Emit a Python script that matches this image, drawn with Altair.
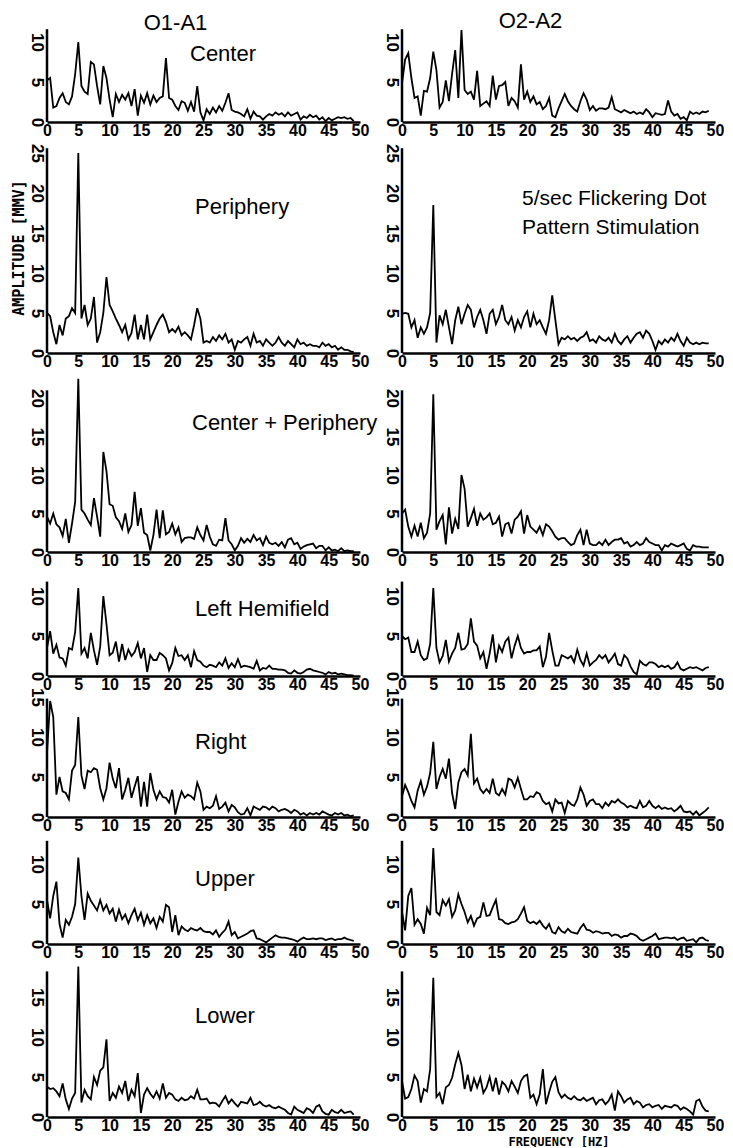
import altair as alt
import pandas as pd

# frequency grid (Hz), 0.5 Hz resolution
FREQ = [i * 0.5 for i in range(99)]

# ---- amplitude spectra, O1-A1 = left column, O2-A2 = right column
CENTER_L = [5.2, 5.5, 1.8, 2.0, 3.0, 3.6, 2.5, 2.2, 3.2, 6.0,
            10.0, 4.5, 3.8, 3.5, 7.5, 7.2, 4.5, 2.2, 7.0, 5.5,
            2.8, 0.6, 3.5, 2.5, 3.4, 2.8, 3.6, 2.0, 4.1, 0.8,
            3.3, 2.4, 3.6, 2.2, 3.3, 2.5, 3.0, 3.2, 8.0, 3.0,
            2.8, 2.0, 1.5, 2.6, 2.4, 1.4, 2.5, 1.3, 4.5, 1.2,
            0.2, 1.6, 1.0, 1.8, 1.2, 2.0, 1.4, 2.4, 3.6, 1.5,
            1.3, 1.2, 1.0, 0.7, 1.6, 0.4, 1.3, 0.8, 0.7, 0.3,
            0.7, 1.0, 0.8, 1.2, 0.9, 1.1, 0.7, 1.2, 0.8, 1.0,
            1.2, 0.3, 0.7, 0.5, 0.9, 0.6, 0.8, 0.3, 0.6, 0.1,
            0.5, 0.2, 0.4, 0.6, 0.5, 0.6, 0.4, 0.5, 0.1]
CENTER_R = [4.8, 7.8, 8.6, 5.5, 3.0, 3.2, 0.8, 3.9, 3.8, 5.5,
            8.8, 6.5, 1.8, 2.5, 5.2, 2.6, 6.0, 9.0, 3.0, 11.5,
            4.0, 3.5, 3.8, 2.8, 6.4, 2.0, 2.3, 2.6, 2.0, 5.8,
            2.8, 4.5, 4.6, 5.0, 2.0, 3.0, 2.6, 1.8, 7.2, 2.8,
            3.8, 2.5, 3.2, 2.2, 2.5, 1.6, 2.0, 3.0, 0.8, 0.6,
            1.7, 2.6, 3.5, 2.6, 2.0, 1.6, 1.3, 2.6, 3.6, 2.8,
            1.5, 2.0, 1.4, 1.7, 1.7, 1.6, 1.8, 3.1, 1.6, 1.4,
            1.2, 1.5, 1.3, 1.1, 1.3, 1.0, 1.2, 1.0, 1.6, 1.2,
            0.6, 1.1, 1.0, 0.9, 1.0, 2.7, 1.3, 0.8, 1.0, 0.4,
            0.6, 0.2, 1.3, 1.0, 1.2, 1.0, 1.3, 1.2, 1.4]
PERIPH_L = [5.0, 4.6, 2.6, 1.1, 3.5, 2.2, 4.3, 4.6, 5.6, 5.0,
            25.0, 4.3, 6.0, 3.5, 4.3, 7.0, 1.3, 2.6, 5.0, 9.5,
            6.0, 5.2, 4.3, 3.5, 2.6, 3.5, 1.7, 2.5, 4.8, 1.7,
            3.5, 1.7, 4.8, 1.7, 2.6, 3.5, 4.3, 4.8, 3.9, 2.6,
            3.0, 2.6, 3.3, 2.2, 2.6, 2.2, 1.7, 3.5, 5.6, 4.3,
            1.3, 1.5, 1.3, 2.0, 1.5, 2.2, 1.7, 2.4, 1.3, 1.7,
            0.4, 1.5, 1.3, 1.7, 2.0, 0.9, 2.4, 1.3, 1.5, 0.9,
            1.7, 1.3, 0.9, 1.3, 2.0, 1.3, 0.9, 1.5, 1.1, 0.7,
            1.7, 1.1, 1.3, 0.9, 1.1, 0.9, 0.9, 0.7, 1.3, 0.9,
            1.1, 0.7, 0.9, 0.4, 0.7, 0.4, 0.4, 0.2, 0.1]
PERIPH_R = [4.9, 5.0, 4.9, 3.2, 4.1, 1.9, 3.2, 2.4, 3.2, 5.0,
            18.5, 1.3, 4.7, 3.6, 5.4, 3.2, 1.1, 4.1, 5.8, 3.6,
            4.9, 6.0, 5.4, 3.2, 4.5, 5.4, 4.1, 2.4, 4.9, 5.4,
            3.6, 4.5, 6.0, 4.1, 3.6, 4.5, 2.8, 4.1, 3.2, 4.5,
            5.2, 3.2, 4.9, 3.6, 4.1, 3.2, 2.4, 4.1, 7.2, 4.1,
            1.1, 1.9, 1.7, 2.1, 1.7, 1.9, 1.5, 1.9, 2.1, 2.6,
            1.5, 1.7, 1.3, 2.1, 1.7, 1.5, 1.9, 1.3, 2.4, 1.5,
            1.1, 1.7, 2.1, 1.3, 1.9, 2.4, 2.6, 1.9, 2.8, 2.4,
            1.5, 0.4, 1.5, 1.1, 1.7, 1.3, 1.9, 1.5, 2.4, 1.5,
            0.9, 1.9, 1.3, 1.1, 1.3, 1.1, 1.3, 1.2, 1.2]
CP_L = [4.6, 3.7, 5.0, 3.6, 3.2, 2.1, 4.3, 1.2, 3.7, 6.5,
        22.5, 5.5, 5.0, 4.2, 3.5, 7.0, 4.6, 2.0, 13.0, 10.5,
        6.2, 6.0, 4.5, 4.0, 3.0, 5.0, 2.6, 3.5, 7.8, 3.4,
        5.7, 2.5, 2.2, 0.2, 2.2, 5.5, 1.8, 5.4, 2.3, 2.6,
        3.7, 2.3, 3.2, 1.3, 1.8, 1.9, 1.9, 1.7, 3.2, 2.2,
        1.5, 3.5, 2.0, 1.0, 0.8, 1.6, 1.5, 4.4, 1.5, 1.0,
        0.2, 0.8, 1.8, 1.2, 1.7, 1.3, 2.2, 1.5, 1.8, 0.9,
        2.0, 1.2, 1.0, 1.2, 0.8, 1.3, 0.6, 1.6, 1.8, 1.0,
        1.2, 0.4, 0.7, 0.9, 1.0, 1.1, 0.5, 0.8, 0.8, 0.2,
        0.6, 0.2, 0.3, 0.1, 0.5, 0.1, 0.2, 0.1, 0.1]
CP_R = [5.0, 5.5, 3.3, 2.0, 3.4, 2.0, 3.8, 1.8, 2.5, 5.0,
        20.5, 2.9, 4.0, 4.8, 1.0, 5.8, 2.4, 4.3, 3.0, 10.0,
        8.2, 3.3, 4.4, 5.6, 3.4, 5.0, 4.2, 4.5, 5.0, 3.6,
        3.8, 4.6, 2.0, 3.6, 3.8, 2.4, 4.2, 4.6, 5.3, 2.4,
        4.8, 3.3, 2.9, 2.5, 3.3, 2.2, 3.6, 3.3, 2.7, 2.0,
        1.6, 1.8, 1.8, 1.3, 0.9, 1.1, 2.2, 2.9, 0.9, 2.9,
        1.1, 0.9, 0.9, 1.3, 0.9, 1.6, 0.9, 1.3, 1.6, 1.6,
        1.8, 1.1, 1.3, 0.7, 0.9, 1.3, 0.9, 1.1, 1.8, 1.3,
        1.1, 0.9, 0.9, 0.2, 0.9, 0.7, 1.1, 0.9, 0.7, 0.9,
        1.1, 0.4, 0.2, 0.9, 0.7, 0.7, 0.6, 0.6, 0.6]
LH_L = [3.5, 5.6, 2.8, 3.9, 2.3, 2.2, 1.3, 3.5, 3.3, 5.5,
        11.0, 2.8, 3.5, 2.2, 5.4, 3.2, 1.4, 3.7, 10.0, 6.5,
        2.6, 2.9, 4.3, 1.8, 4.0, 2.0, 3.3, 2.5, 3.0, 4.1,
        2.2, 3.5, 0.5, 2.6, 2.0, 2.0, 2.9, 2.6, 2.2, 0.7,
        1.6, 3.5, 2.5, 2.6, 2.0, 2.6, 1.1, 3.1, 2.0, 1.8,
        1.3, 1.1, 1.4, 1.3, 1.1, 1.7, 1.3, 2.2, 1.0, 1.6,
        1.1, 2.1, 1.1, 1.3, 1.2, 1.1, 0.9, 1.9, 0.7, 1.0,
        0.9, 1.3, 0.9, 0.9, 0.8, 0.8, 0.7, 0.4, 0.3, 0.7,
        0.4, 0.3, 0.5, 0.8, 0.9, 0.7, 0.6, 0.5, 0.4, 0.2,
        0.5, 0.3, 0.4, 0.2, 0.3, 0.2, 0.1, 0.1, 0.05]
LH_R = [5.0, 4.6, 4.8, 3.0, 3.0, 4.3, 2.6, 2.0, 2.2, 4.0,
        11.0, 3.5, 1.7, 2.5, 4.5, 1.8, 2.8, 3.5, 5.4, 3.3,
        3.4, 4.0, 7.2, 4.3, 3.8, 2.2, 3.0, 0.9, 2.8, 5.2,
        1.7, 3.8, 3.0, 4.3, 4.8, 2.2, 3.8, 5.0, 3.5, 2.8,
        3.0, 3.0, 3.2, 3.2, 3.7, 1.1, 2.4, 5.4, 3.2, 1.3,
        1.3, 2.6, 2.4, 2.2, 2.5, 1.7, 3.3, 2.0, 1.3, 2.8,
        1.3, 1.7, 2.0, 2.6, 2.2, 2.6, 1.7, 2.2, 2.8, 1.5,
        1.3, 2.6, 2.2, 1.2, 0.5, 0.2, 1.9, 1.5, 1.3, 1.7,
        1.7, 1.5, 1.1, 1.3, 1.1, 1.3, 0.9, 1.1, 1.7, 0.9,
        0.7, 0.9, 1.1, 1.0, 1.1, 0.9, 0.7, 1.0, 1.1]
RIGHT_L = [8.0, 14.5, 12.5, 2.8, 5.0, 3.2, 3.0, 2.2, 5.8, 6.5,
           12.5, 5.2, 3.5, 5.8, 5.6, 6.1, 5.9, 3.6, 2.2, 3.6,
           6.8, 4.8, 3.6, 6.1, 2.2, 3.4, 4.9, 2.4, 3.8, 5.1,
           1.3, 4.4, 1.3, 5.5, 3.4, 2.2, 3.2, 2.5, 2.4, 1.8,
           3.4, 0.3, 1.9, 3.2, 2.4, 2.8, 2.6, 2.2, 4.3, 3.2,
           0.9, 1.3, 1.1, 1.4, 2.6, 1.0, 1.3, 1.8, 0.7, 1.5,
           1.2, 0.6, 0.3, 0.4, 1.1, 0.2, 1.3, 1.1, 0.9, 1.3,
           1.2, 0.9, 1.3, 1.1, 0.7, 0.9, 1.0, 0.8, 0.5, 0.9,
           0.7, 0.3, 0.5, 0.2, 0.5, 0.3, 0.5, 0.3, 0.7, 0.5,
           0.3, 0.2, 0.5, 0.3, 0.5, 0.2, 0.3, 0.1, 0.2]
RIGHT_R = [2.6, 4.0, 3.1, 2.0, 1.2, 3.3, 4.5, 2.8, 3.8, 5.5,
           9.4, 3.5, 5.0, 6.0, 4.8, 7.3, 3.0, 1.0, 4.3, 5.6,
           6.0, 5.2, 10.4, 4.2, 4.8, 3.5, 3.0, 3.5, 3.0, 4.8,
           3.0, 2.7, 3.5, 2.8, 4.8, 4.6, 3.7, 4.9, 3.5, 2.2,
           2.2, 2.6, 2.5, 3.1, 2.9, 2.0, 1.6, 1.8, 0.7, 2.2,
           1.7, 1.8, 0.5, 2.0, 1.6, 1.4, 2.2, 3.7, 2.8, 1.4,
           2.0, 2.2, 1.6, 1.6, 1.1, 1.8, 1.4, 2.0, 1.8, 2.2,
           1.8, 1.6, 1.2, 1.4, 1.2, 1.1, 2.0, 1.2, 1.4, 2.0,
           1.4, 1.1, 1.4, 1.0, 1.2, 1.0, 1.1, 0.7, 1.0, 1.4,
           0.7, 0.6, 0.7, 0.3, 0.7, 0.2, 0.5, 0.8, 1.2]
UPPER_L = [5.5, 3.2, 6.0, 7.8, 2.5, 0.8, 3.0, 2.4, 3.4, 5.0,
           10.8, 6.0, 3.0, 6.3, 5.4, 4.8, 4.2, 5.5, 4.2, 4.9,
           3.8, 4.4, 2.8, 4.3, 3.1, 3.7, 2.6, 3.6, 4.4, 3.0,
           3.9, 2.4, 3.6, 2.6, 3.2, 2.0, 3.4, 2.8, 4.9, 4.6,
           1.5, 3.6, 1.1, 2.2, 1.8, 1.6, 2.0, 1.8, 1.7, 2.0,
           1.6, 1.5, 1.5, 1.2, 1.7, 0.9, 1.4, 1.8, 2.8, 1.1,
           1.5, 0.7, 0.9, 1.1, 1.3, 1.6, 1.7, 0.7, 0.6, 0.4,
           0.2, 0.5, 0.8, 1.1, 0.9, 0.8, 0.8, 0.7, 0.6, 0.5,
           0.3, 0.6, 0.8, 0.6, 0.6, 0.7, 0.6, 0.7, 0.7, 0.5,
           0.6, 0.7, 0.5, 0.6, 0.6, 0.8, 0.6, 0.5, 0.4]
UPPER_R = [4.0, 1.7, 6.0, 7.0, 2.4, 3.1, 2.5, 1.3, 4.5, 3.6,
           12.0, 4.0, 3.6, 5.5, 4.8, 5.6, 3.4, 4.2, 6.2, 5.0,
           4.0, 2.7, 3.5, 2.3, 3.2, 3.4, 5.2, 3.5, 3.6, 4.6,
           5.5, 3.1, 3.0, 2.6, 2.5, 2.7, 2.8, 3.1, 3.8, 4.6,
           2.9, 2.6, 2.8, 2.5, 2.9, 2.3, 1.9, 2.5, 1.5, 1.3,
           2.1, 1.6, 1.4, 1.9, 1.5, 1.4, 1.3, 2.0, 2.5, 1.8,
           1.7, 1.4, 1.6, 1.5, 1.3, 1.4, 1.4, 1.0, 1.2, 1.1,
           0.8, 1.0, 1.0, 1.3, 1.2, 1.0, 0.6, 0.4, 0.6, 0.8,
           1.0, 1.3, 0.6, 0.7, 0.8, 0.8, 0.7, 0.8, 0.5, 0.7,
           0.8, 0.4, 0.5, 0.6, 0.2, 0.7, 0.8, 0.5, 0.4]
LOWER_L = [3.8, 3.5, 3.6, 3.2, 2.6, 4.2, 2.2, 1.0, 2.3, 3.0,
           18.8, 1.8, 3.4, 2.6, 2.2, 5.0, 4.0, 5.8, 6.2, 9.7,
           2.0, 3.0, 2.4, 3.8, 3.0, 4.5, 2.0, 3.4, 2.6, 5.5,
           0.5, 2.8, 3.6, 2.9, 2.4, 3.2, 2.3, 4.2, 2.4, 3.0,
           2.8, 2.2, 2.0, 2.4, 2.1, 2.2, 2.6, 2.3, 3.4, 2.2,
           2.2, 2.3, 1.7, 1.8, 1.7, 1.3, 2.0, 2.6, 1.7, 2.2,
           1.7, 1.3, 1.9, 1.8, 1.7, 2.4, 1.5, 1.6, 1.9, 1.5,
           1.3, 1.5, 1.2, 1.1, 1.3, 1.1, 0.9, 0.5, 0.3, 1.3,
           0.9, 0.7, 0.5, 1.1, 0.9, 0.5, 1.3, 1.5, 0.7, 0.4,
           0.3, 0.9, 0.6, 0.5, 0.9, 0.5, 0.6, 0.7, 0.3]
LOWER_R = [4.5, 2.3, 2.5, 3.5, 5.2, 4.5, 1.8, 3.5, 3.2, 6.0,
           17.4, 2.5, 3.0, 1.6, 3.7, 4.0, 4.9, 6.6, 8.0, 6.5,
           3.5, 5.3, 3.2, 4.8, 3.7, 4.9, 3.0, 3.7, 5.0, 3.2,
           4.9, 2.8, 4.4, 4.0, 3.2, 4.5, 3.8, 3.0, 4.5, 5.1,
           5.3, 2.4, 2.8, 1.6, 2.8, 6.0, 1.6, 3.1, 4.4, 5.0,
           3.1, 2.4, 2.8, 2.4, 2.2, 2.6, 2.2, 2.1, 2.4, 2.0,
           2.2, 2.4, 1.6, 2.1, 2.2, 1.6, 2.0, 2.8, 0.8, 3.2,
           2.6, 1.8, 2.2, 2.4, 1.6, 2.0, 1.8, 1.2, 1.5, 1.6,
           1.2, 1.4, 1.5, 1.0, 1.4, 1.3, 1.2, 1.5, 1.4, 0.9,
           1.2, 1.0, 0.7, 0.3, 2.0, 2.2, 1.3, 0.8, 0.7]

LEFT = [CENTER_L, PERIPH_L, CP_L, LH_L, RIGHT_L, UPPER_L, LOWER_L]
RIGHT = [CENTER_R, PERIPH_R, CP_R, LH_R, RIGHT_R, UPPER_R, LOWER_R]
ROW_LABELS = ["Center", "Periphery", "Center + Periphery", "Left Hemifield",
              "Right", "Upper", "Lower"]
COL_TITLES = ["O1-A1", "O2-A2"]
STIM_NOTE = "5/sec Flickering Dot\nPattern Stimulation"
X_TICKS = [0, 5, 10, 15, 20, 25, 30, 35, 40, 45, 50]
Y_TICKS = [[0, 5, 10], [0, 5, 10, 15, 20, 25], [0, 5, 10, 15, 20], [0, 5, 10],
           [0, 5, 10, 15], [0, 5, 10], [0, 5, 10, 15]]
AXIS_TOP = [11.6, 25.6, 21.0, 11.8, 14.8, 12.9, 18.2]
DOMAIN_TOP = [11.625, 26.375, 23.25, 13.0, 15.125, 13.375, 19.125]

# ---- layout / style
W = 313
HEIGHTS = [93, 211, 179, 104, 121, 107, 153]
LABEL_POS = [(143, 25), (148, 65), (145, 50), (148, 37), (148, 46), (148, 42), (148, 52)]
TICK_FONT = "Liberation Sans"
TEXT_FONT = "Liberation Sans"
MONO = "DejaVu Sans Mono"


def panel(values, r, c):
    df = pd.DataFrame({"f": FREQ, "a": values})
    x_title = "FREQUENCY [HZ]" if (r == 6 and c == 1) else None
    y_title = "AMPLITUDE [MMV]" if (r == 1 and c == 0) else None
    x_enc = alt.X(
        "f:Q",
        scale=alt.Scale(domain=[0, 50], nice=False),
        axis=alt.Axis(values=X_TICKS, ticks=False, grid=False, labelFlush=False,
                      labelOverlap=False, labelPadding=0, labelFont=TICK_FONT,
                      labelFontSize=16, labelFontWeight="bold", labelColor="black",
                      domainColor="black", domainWidth=2.5, titleFont=MONO,
                      titleFontSize=12, titleFontWeight="bold", titleColor="black",
                      titlePadding=3),
        title=x_title,
    )
    y_enc = alt.Y(
        "a:Q",
        scale=alt.Scale(domain=[0, DOMAIN_TOP[r]], nice=False),
        axis=alt.Axis(values=Y_TICKS[r], ticks=False, grid=False, domain=False,
                      labelAngle=90, labelAlign="center", labelBaseline="top",
                      labelPadding=3, labelFont=TICK_FONT, labelFontSize=17,
                      labelFontWeight="bold", labelColor="black", labelOverlap=False,
                      labelFlush=False, titleFont=MONO, titleFontSize=15,
                      titleFontWeight="bold", titleColor="black", titlePadding=2),
        title=y_title,
    )
    line = alt.Chart(df).mark_line(color="black", strokeWidth=1.8, clip=False).encode(
        x=x_enc, y=y_enc)
    axis_rule = alt.Chart(pd.DataFrame({"k": [0]})).mark_rule(
        color="black", strokeWidth=2.5).encode(
        x=alt.value(0),
        y=alt.YDatum(0, title=y_title),
        y2=alt.Y2Datum(AXIS_TOP[r]),
    )
    layers = [line, axis_rule]
    if c == 0:
        px, py = LABEL_POS[r]
        layers.append(
            alt.Chart(pd.DataFrame({"t": [ROW_LABELS[r]]})).mark_text(
                align="left", baseline="middle", font=TEXT_FONT, fontSize=22,
                color="black").encode(x=alt.value(px), y=alt.value(py), text="t:N"))
    if c == 1 and r == 1:
        layers.append(
            alt.Chart(pd.DataFrame({"t": [STIM_NOTE]})).mark_text(
                align="left", baseline="middle", font=TEXT_FONT, fontSize=21,
                lineBreak="\n", lineHeight=29, color="black").encode(
                x=alt.value(120), y=alt.value(57), text="t:N"))
    ch = alt.layer(*layers).properties(width=W, height=HEIGHTS[r])
    if r == 0:
        ch = ch.properties(title=alt.TitleParams(
            text=COL_TITLES[c], font=TEXT_FONT, fontSize=22, fontWeight="normal",
            color="black", anchor="middle", dx=-28, offset=-7))
    return ch


panels = []
for r in range(7):
    panels.append(panel(LEFT[r], r, 0))
    panels.append(panel(RIGHT[r], r, 1))

chart = alt.concat(
    *panels, columns=2, spacing={"row": 20, "column": 42}, bounds="flush", align="each",
    padding={"left": 3, "top": 2, "right": 0, "bottom": 0},
).configure_view(strokeWidth=0).properties(background="white")

chart.save("out.html", embed_options={"renderer": "svg", "actions": False})
